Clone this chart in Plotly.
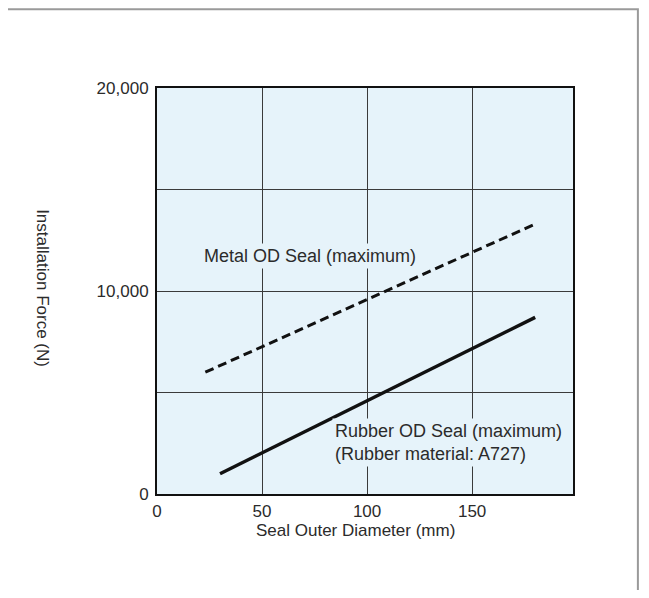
import plotly.graph_objects as go

# Seal outer diameter (mm) vs installation force (N)
metal_od = [23, 180]
metal_force = [6000, 13300]
rubber_od = [30, 180]
rubber_force = [1000, 8700]

x_ticks = [0, 50, 100, 150]
y_ticks = [0, 5000, 10000, 15000, 20000]
y_ticktext = ["0", "", "10,000", "", "20,000"]

PLOT_BG = "#e6f3fa"
TEXT = "#2b2b2b"
FONT = "Liberation Sans, Arial, sans-serif"

fig = go.Figure()

fig.add_trace(go.Scatter(x=metal_od, y=metal_force, mode="lines",
                         line=dict(color="#111111", width=3, dash="9px,5px"),
                         name="Metal OD Seal (maximum)"))
fig.add_trace(go.Scatter(x=rubber_od, y=rubber_force, mode="lines",
                         line=dict(color="#111111", width=3.5),
                         name="Rubber OD Seal (maximum)"))

# line labels, with a background so the grid is broken behind the text
fig.add_annotation(x=72.7, y=11700, text="Metal OD Seal (maximum)",
                   showarrow=False, bgcolor=PLOT_BG, borderpad=2,
                   font=dict(size=18, color=TEXT, family=FONT))
fig.add_annotation(x=83.5, y=2550, xanchor="left", align="left",
                   text="Rubber OD Seal (maximum)<br>(Rubber material: A727)",
                   showarrow=False, bgcolor=PLOT_BG, borderpad=2,
                   font=dict(size=18, color=TEXT, family=FONT))

# axis titles
fig.add_annotation(x=94.6, y=-0.089, xref="x", yref="paper", yanchor="middle",
                   text="Seal Outer Diameter (mm)", showarrow=False,
                   font=dict(size=17, color=TEXT, family=FONT))
fig.add_annotation(x=-0.274, y=0.507, xref="paper", yref="paper",
                   xanchor="center", yanchor="middle",
                   text="Installation Force (N)", textangle=90, showarrow=False,
                   font=dict(size=17, color=TEXT, family=FONT))

# grey outer frame around the figure
fig.add_shape(type="rect", xref="paper", yref="paper",
              x0=-0.366, x1=1.156, y0=-0.35, y1=1.194,
              line=dict(color="#9a9a9a", width=2), layer="below")

# the page body has an 8px margin, so the figure is sized to fit inside it
fig.update_layout(
    width=633, height=582,
    margin=dict(l=149, r=68, t=80, b=96),
    paper_bgcolor="white",
    plot_bgcolor=PLOT_BG,
    showlegend=False,
    font=dict(family=FONT, size=17, color=TEXT),
    xaxis=dict(range=[0, 198], tickvals=x_ticks, showgrid=True,
               gridcolor="#3a3a3a", gridwidth=1, zeroline=False,
               showline=True, linecolor="#111111", linewidth=2, mirror=True,
               ticks="", ticklabelstandoff=1),
    yaxis=dict(range=[0, 20000], tickvals=y_ticks, ticktext=y_ticktext,
               showgrid=True, gridcolor="#3a3a3a", gridwidth=1, zeroline=False,
               showline=True, linecolor="#111111", linewidth=2, mirror=True,
               ticks="", ticklabelstandoff=3),
)

fig.write_html("out.html")
